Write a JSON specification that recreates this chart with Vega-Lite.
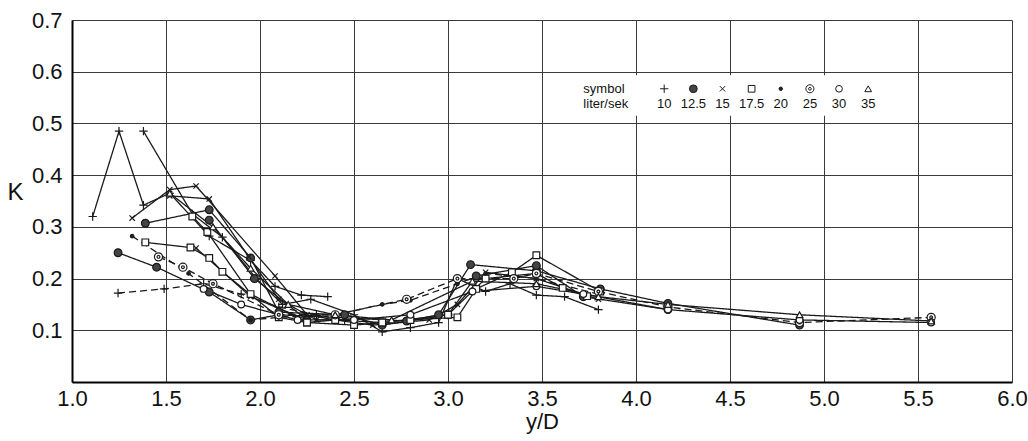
{
  "$schema": "https://vega.github.io/schema/vega-lite/v6.json",
  "width": 940,
  "height": 362,
  "autosize": "none",
  "padding": {"left": 72, "top": 20, "right": 16, "bottom": 59},
  "background": "white",
  "config": {"view": {"stroke": null}, "font": "Liberation Sans"},
  "datasets": {
    "pts": [
      {"run":"10a","rate":"10","x":1.11,"y":0.32},{"run":"10a","rate":"10","x":1.25,"y":0.485},{"run":"10a","rate":"10","x":1.38,"y":0.342},{"run":"10a","rate":"10","x":1.52,"y":0.365},{"run":"10a","rate":"10","x":1.73,"y":0.282},{"run":"10a","rate":"10","x":1.95,"y":0.235},{"run":"10a","rate":"10","x":2.08,"y":0.185},{"run":"10a","rate":"10","x":2.22,"y":0.168},{"run":"10a","rate":"10","x":2.36,"y":0.165},
      {"run":"10b","rate":"10","x":1.38,"y":0.485},{"run":"10b","rate":"10","x":1.64,"y":0.325},{"run":"10b","rate":"10","x":1.8,"y":0.28},{"run":"10b","rate":"10","x":1.98,"y":0.2},{"run":"10b","rate":"10","x":2.12,"y":0.15},{"run":"10b","rate":"10","x":2.27,"y":0.16},{"run":"10b","rate":"10","x":2.5,"y":0.13},{"run":"10b","rate":"10","x":2.65,"y":0.097},{"run":"10b","rate":"10","x":2.8,"y":0.105},{"run":"10b","rate":"10","x":2.95,"y":0.115},{"run":"10b","rate":"10","x":3.05,"y":0.2},{"run":"10b","rate":"10","x":3.2,"y":0.175},{"run":"10b","rate":"10","x":3.33,"y":0.19},{"run":"10b","rate":"10","x":3.47,"y":0.168},{"run":"10b","rate":"10","x":3.62,"y":0.165},{"run":"10b","rate":"10","x":3.8,"y":0.14},
      {"run":"10c","rate":"10","x":1.245,"y":0.172},{"run":"10c","rate":"10","x":1.49,"y":0.18},{"run":"10c","rate":"10","x":1.7,"y":0.19},{"run":"10c","rate":"10","x":1.9,"y":0.17},{"run":"10c","rate":"10","x":2.1,"y":0.145},{"run":"10c","rate":"10","x":2.3,"y":0.13},{"run":"10c","rate":"10","x":2.45,"y":0.12},
      {"run":"12a","rate":"12.5","x":1.245,"y":0.25},{"run":"12a","rate":"12.5","x":1.45,"y":0.222},{"run":"12a","rate":"12.5","x":1.73,"y":0.174},{"run":"12a","rate":"12.5","x":1.95,"y":0.12},{"run":"12a","rate":"12.5","x":2.1,"y":0.13},{"run":"12a","rate":"12.5","x":2.4,"y":0.125},{"run":"12a","rate":"12.5","x":2.78,"y":0.118},{"run":"12a","rate":"12.5","x":2.95,"y":0.13},{"run":"12a","rate":"12.5","x":3.12,"y":0.227},{"run":"12a","rate":"12.5","x":3.47,"y":0.215},{"run":"12a","rate":"12.5","x":3.81,"y":0.18},{"run":"12a","rate":"12.5","x":4.17,"y":0.152},{"run":"12a","rate":"12.5","x":4.87,"y":0.11},
      {"run":"12b","rate":"12.5","x":1.39,"y":0.307},{"run":"12b","rate":"12.5","x":1.73,"y":0.333},{"run":"12b","rate":"12.5","x":1.95,"y":0.24},{"run":"12b","rate":"12.5","x":2.1,"y":0.135},{"run":"12b","rate":"12.5","x":2.45,"y":0.13},{"run":"12b","rate":"12.5","x":2.65,"y":0.11},{"run":"12b","rate":"12.5","x":3.0,"y":0.13},{"run":"12b","rate":"12.5","x":3.15,"y":0.205},{"run":"12b","rate":"12.5","x":3.47,"y":0.225},{"run":"12b","rate":"12.5","x":3.72,"y":0.165},{"run":"12b","rate":"12.5","x":4.17,"y":0.14},
      {"run":"12c","rate":"12.5","x":1.73,"y":0.313},{"run":"12c","rate":"12.5","x":1.97,"y":0.2},{"run":"12c","rate":"12.5","x":2.25,"y":0.12},
      {"run":"15a","rate":"15","x":1.32,"y":0.317},{"run":"15a","rate":"15","x":1.52,"y":0.372},{"run":"15a","rate":"15","x":1.66,"y":0.379},{"run":"15a","rate":"15","x":2.08,"y":0.205},{"run":"15a","rate":"15","x":2.25,"y":0.13},{"run":"15a","rate":"15","x":2.4,"y":0.12},{"run":"15a","rate":"15","x":2.6,"y":0.11},{"run":"15a","rate":"15","x":2.9,"y":0.12},{"run":"15a","rate":"15","x":3.05,"y":0.15},{"run":"15a","rate":"15","x":3.2,"y":0.212},{"run":"15a","rate":"15","x":3.47,"y":0.2},{"run":"15a","rate":"15","x":3.8,"y":0.16},
      {"run":"15b","rate":"15","x":1.52,"y":0.36},{"run":"15b","rate":"15","x":1.73,"y":0.354},{"run":"15b","rate":"15","x":1.94,"y":0.242},{"run":"15b","rate":"15","x":2.1,"y":0.16},{"run":"15b","rate":"15","x":2.3,"y":0.12},{"run":"15b","rate":"15","x":2.5,"y":0.12},
      {"run":"15c","rate":"15","x":1.66,"y":0.259},{"run":"15c","rate":"15","x":1.95,"y":0.165},{"run":"15c","rate":"15","x":2.25,"y":0.12},
      {"run":"17a","rate":"17.5","x":1.39,"y":0.27},{"run":"17a","rate":"17.5","x":1.63,"y":0.26},{"run":"17a","rate":"17.5","x":1.73,"y":0.24},{"run":"17a","rate":"17.5","x":1.8,"y":0.213},{"run":"17a","rate":"17.5","x":2.1,"y":0.125},{"run":"17a","rate":"17.5","x":2.25,"y":0.115},{"run":"17a","rate":"17.5","x":2.5,"y":0.11},{"run":"17a","rate":"17.5","x":2.65,"y":0.115},{"run":"17a","rate":"17.5","x":2.8,"y":0.12},{"run":"17a","rate":"17.5","x":3.05,"y":0.125},{"run":"17a","rate":"17.5","x":3.15,"y":0.18},{"run":"17a","rate":"17.5","x":3.34,"y":0.212},{"run":"17a","rate":"17.5","x":3.47,"y":0.245},{"run":"17a","rate":"17.5","x":3.81,"y":0.175},
      {"run":"17b","rate":"17.5","x":1.64,"y":0.32},{"run":"17b","rate":"17.5","x":1.72,"y":0.29},{"run":"17b","rate":"17.5","x":1.95,"y":0.17},{"run":"17b","rate":"17.5","x":2.25,"y":0.115},{"run":"17b","rate":"17.5","x":2.4,"y":0.12},{"run":"17b","rate":"17.5","x":2.65,"y":0.115},{"run":"17b","rate":"17.5","x":3.0,"y":0.13},{"run":"17b","rate":"17.5","x":3.2,"y":0.2},{"run":"17b","rate":"17.5","x":3.47,"y":0.21},{"run":"17b","rate":"17.5","x":3.61,"y":0.182},{"run":"17b","rate":"17.5","x":3.74,"y":0.166},
      {"run":"20","rate":"20","x":1.32,"y":0.282},{"run":"20","rate":"20","x":1.62,"y":0.21},{"run":"20","rate":"20","x":1.95,"y":0.12},{"run":"20","rate":"20","x":2.1,"y":0.125},{"run":"20","rate":"20","x":2.4,"y":0.13},{"run":"20","rate":"20","x":2.65,"y":0.15},{"run":"20","rate":"20","x":2.8,"y":0.158},{"run":"20","rate":"20","x":3.05,"y":0.19},{"run":"20","rate":"20","x":3.2,"y":0.21},{"run":"20","rate":"20","x":3.47,"y":0.2},{"run":"20","rate":"20","x":3.8,"y":0.17},
      {"run":"25","rate":"25","x":1.46,"y":0.242},{"run":"25","rate":"25","x":1.59,"y":0.222},{"run":"25","rate":"25","x":1.75,"y":0.19},{"run":"25","rate":"25","x":2.1,"y":0.13},{"run":"25","rate":"25","x":2.4,"y":0.13},{"run":"25","rate":"25","x":2.78,"y":0.16},{"run":"25","rate":"25","x":3.05,"y":0.2},{"run":"25","rate":"25","x":3.35,"y":0.2},{"run":"25","rate":"25","x":3.47,"y":0.21},{"run":"25","rate":"25","x":3.8,"y":0.175},{"run":"25","rate":"25","x":4.17,"y":0.145},{"run":"25","rate":"25","x":4.87,"y":0.115},{"run":"25","rate":"25","x":5.57,"y":0.125},
      {"run":"30","rate":"30","x":1.7,"y":0.18},{"run":"30","rate":"30","x":1.9,"y":0.15},{"run":"30","rate":"30","x":2.2,"y":0.12},{"run":"30","rate":"30","x":2.5,"y":0.12},{"run":"30","rate":"30","x":2.8,"y":0.13},{"run":"30","rate":"30","x":3.13,"y":0.175},{"run":"30","rate":"30","x":3.47,"y":0.185},{"run":"30","rate":"30","x":3.72,"y":0.17},{"run":"30","rate":"30","x":4.17,"y":0.14},{"run":"30","rate":"30","x":4.87,"y":0.12},{"run":"30","rate":"30","x":5.57,"y":0.115},
      {"run":"35","rate":"35","x":1.52,"y":0.365},{"run":"35","rate":"35","x":1.75,"y":0.3},{"run":"35","rate":"35","x":1.95,"y":0.22},{"run":"35","rate":"35","x":2.15,"y":0.15},{"run":"35","rate":"35","x":2.4,"y":0.13},{"run":"35","rate":"35","x":2.7,"y":0.12},{"run":"35","rate":"35","x":3.13,"y":0.195},{"run":"35","rate":"35","x":3.47,"y":0.19},{"run":"35","rate":"35","x":3.8,"y":0.165},{"run":"35","rate":"35","x":4.17,"y":0.15},{"run":"35","rate":"35","x":4.87,"y":0.13},{"run":"35","rate":"35","x":5.57,"y":0.118}
    ],
    "leg": [
      {"rate":"10","x":4.15,"label":"10"},{"rate":"12.5","x":4.305,"label":"12.5"},{"rate":"15","x":4.46,"label":"15"},{"rate":"17.5","x":4.615,"label":"17.5"},{"rate":"20","x":4.77,"label":"20"},{"rate":"25","x":4.925,"label":"25"},{"rate":"30","x":5.08,"label":"30"},{"rate":"35","x":5.235,"label":"35"}
    ]
  },
  "layer": [
    {
      "data": {"name": "pts"},
      "mark": {"type": "line", "color": "#1a1a1a", "strokeWidth": 1.3},
      "encoding": {
        "x": {"field": "x", "type": "quantitative", "title": "y/D",
              "scale": {"domain": [1, 6], "nice": false, "zero": false},
              "axis": {"values": [1, 1.5, 2, 2.5, 3, 3.5, 4, 4.5, 5, 5.5, 6], "format": ".1f", "grid": true, "gridColor": "#3a3a3a", "gridWidth": 1, "gridOpacity": 1, "ticks": false, "domainColor": "#000", "domainWidth": 2, "labelFontSize": 22, "labelColor": "#111", "labelPadding": 6, "labelFlush": false, "titleFontSize": 22, "titleFontWeight": "normal", "titleColor": "#111", "titlePadding": 2}},
        "y": {"field": "y", "type": "quantitative", "title": "K",
              "scale": {"domain": [0, 0.7], "nice": false},
              "axis": {"values": [0.1, 0.2, 0.3, 0.4, 0.5, 0.6, 0.7], "format": ".1f", "grid": true, "gridColor": "#3a3a3a", "gridWidth": 1, "gridOpacity": 1, "ticks": false, "domainColor": "#000", "domainWidth": 2, "labelFontSize": 22, "labelColor": "#111", "labelPadding": 10, "titleFontSize": 24, "titleFontWeight": "normal", "titleColor": "#111", "titleAngle": 0, "titleX": -57, "titleY": 172, "titleAlign": "center", "titleBaseline": "middle"}},
        "detail": {"field": "run", "type": "nominal"},
        "strokeDash": {"field": "run", "type": "nominal", "legend": null,
          "scale": {"domain": ["10a","10b","10c","12a","12b","12c","15a","15b","15c","17a","17b","20","25","30","35"],
                    "range": [[1,0],[1,0],[7,4],[1,0],[1,0],[1,0],[1,0],[1,0],[1,0],[1,0],[1,0],[7,4],[7,4],[1,0],[1,0]]}}
      }
    },
    {
      "data": {"name": "pts"},
      "mark": {"type": "point", "filled": true, "stroke": "#1a1a1a", "strokeWidth": 1.2, "opacity": 1},
      "encoding": {
        "x": {"field": "x", "type": "quantitative", "title": "y/D"},
        "y": {"field": "y", "type": "quantitative", "title": "K"},
        "shape": {"field": "rate", "type": "nominal", "legend": null,
          "scale": {"domain": ["10","12.5","15","17.5","20","25","30","35"],
                    "range": ["M-1,0L1,0M0,-1L0,1", "circle", "M-0.8,-0.8L0.8,0.8M-0.8,0.8L0.8,-0.8", "square", "circle", "M-1,0A1,1,0,1,1,1,0A1,1,0,1,1,-1,0ZM-0.35,0A0.35,0.35,0,1,1,0.35,0A0.35,0.35,0,1,1,-0.35,0Z", "circle", "triangle-up"]}},
        "fill": {"field": "rate", "type": "nominal", "legend": null,
          "scale": {"domain": ["10","12.5","15","17.5","20","25","30","35"],
                    "range": ["transparent", "#444", "transparent", "white", "#222", "white", "white", "white"]}},
        "size": {"field": "rate", "type": "nominal", "legend": null,
          "scale": {"type": "ordinal", "domain": ["10","12.5","15","17.5","20","25","30","35"],
                    "range": [70, 60, 45, 45, 12, 65, 45, 45]}}
      }
    },
    {
      "data": {"values": [{}]},
      "mark": {"type": "rect", "fill": "white"},
      "encoding": {
        "x": {"datum": 3.66, "type": "quantitative", "title": "y/D"},
        "x2": {"datum": 5.38},
        "y": {"datum": 0.515, "type": "quantitative", "title": "K"},
        "y2": {"datum": 0.593}
      }
    },
    {
      "data": {"name": "leg"},
      "mark": {"type": "point", "filled": true, "stroke": "#1a1a1a", "strokeWidth": 1.0, "opacity": 1},
      "encoding": {
        "x": {"field": "x", "type": "quantitative", "title": "y/D"},
        "y": {"datum": 0.567, "type": "quantitative", "title": "K"},
        "shape": {"field": "rate", "type": "nominal", "legend": null,
          "scale": {"domain": ["10","12.5","15","17.5","20","25","30","35"],
                    "range": ["M-1,0L1,0M0,-1L0,1", "circle", "M-0.8,-0.8L0.8,0.8M-0.8,0.8L0.8,-0.8", "square", "circle", "M-1,0A1,1,0,1,1,1,0A1,1,0,1,1,-1,0ZM-0.35,0A0.35,0.35,0,1,1,0.35,0A0.35,0.35,0,1,1,-0.35,0Z", "circle", "triangle-up"]}},
        "fill": {"field": "rate", "type": "nominal", "legend": null,
          "scale": {"domain": ["10","12.5","15","17.5","20","25","30","35"],
                    "range": ["transparent", "#444", "transparent", "white", "#222", "white", "white", "white"]}},
        "size": {"field": "rate", "type": "nominal", "legend": null,
          "scale": {"type": "ordinal", "domain": ["10","12.5","15","17.5","20","25","30","35"],
                    "range": [70, 60, 45, 45, 12, 65, 45, 45]}}
      }
    },
    {
      "data": {"name": "leg"},
      "mark": {"type": "text", "fontSize": 13, "color": "#111", "align": "center", "baseline": "middle"},
      "encoding": {
        "x": {"field": "x", "type": "quantitative", "title": "y/D"},
        "y": {"datum": 0.537, "type": "quantitative", "title": "K"},
        "text": {"field": "label"}
      }
    },
    {
      "data": {"values": [{}]},
      "mark": {"type": "text", "text": "symbol", "fontSize": 13, "color": "#111", "align": "left", "baseline": "middle"},
      "encoding": {
        "x": {"datum": 3.72, "type": "quantitative", "title": "y/D"},
        "y": {"datum": 0.567, "type": "quantitative", "title": "K"}
      }
    },
    {
      "data": {"values": [{}]},
      "mark": {"type": "text", "text": "liter/sek", "fontSize": 13, "color": "#111", "align": "left", "baseline": "middle"},
      "encoding": {
        "x": {"datum": 3.72, "type": "quantitative", "title": "y/D"},
        "y": {"datum": 0.537, "type": "quantitative", "title": "K"}
      }
    }
  ]
}
